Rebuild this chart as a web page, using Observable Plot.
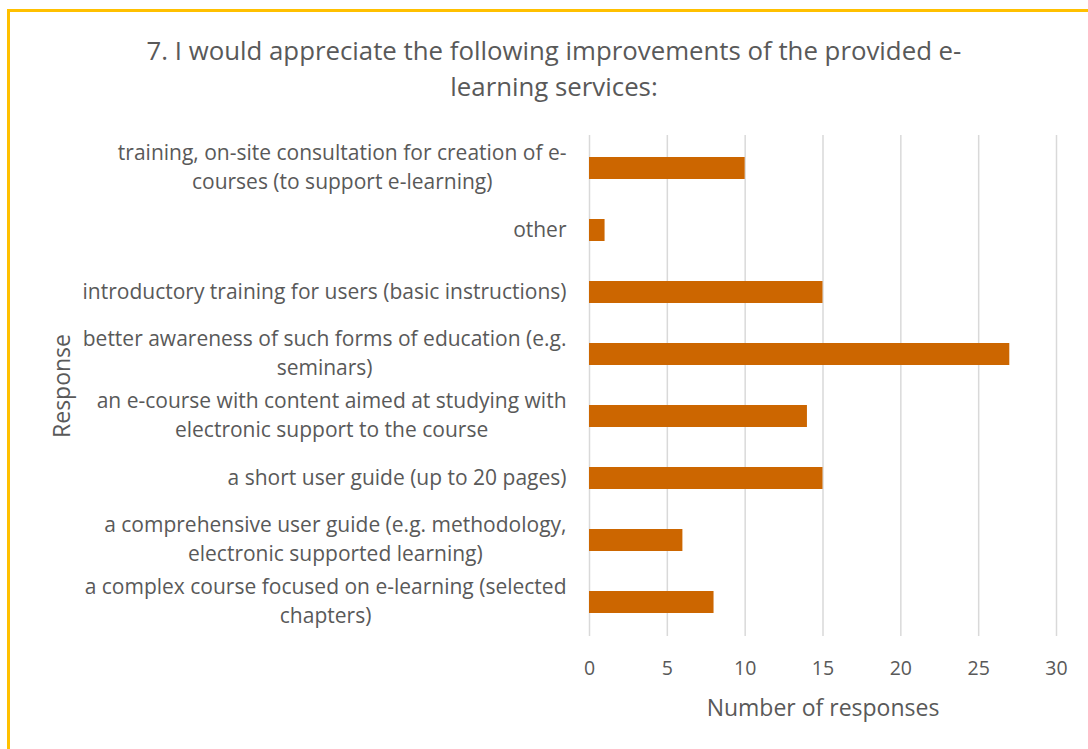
<!DOCTYPE html>
<html>
<head>
<meta charset="utf-8">
<script src="https://cdn.jsdelivr.net/npm/d3@7"></script>
<script src="https://cdn.jsdelivr.net/npm/@observablehq/plot@0.6"></script>
<style>
  html, body { margin: 0; padding: 0; background: #fff; overflow: hidden; }
  #frame { position: absolute; left: 7px; top: 9px; width: 1200px; height: 900px;
           border-top: 3px solid #FFC000; border-left: 3px solid #FFC000; box-sizing: border-box; }
  #title { position: absolute; left: 20px; width: 1068px; top: 32px; text-align: center;
           font-family: "Open Sans", sans-serif; font-size: 25.8px; line-height: 36px; color: #595959; }
  #chart { position: absolute; left: 0; top: 104px; }
</style>
</head>
<body>
<div id="frame"></div>
<div id="title">7. I would appreciate the following improvements of the provided e-<br>learning services:</div>
<div id="chart"></div>
<script>
const categories = [
  "training, on-site consultation for creation of e-\ncourses (to support e-learning)",
  "other",
  "introductory training for users (basic instructions)",
  "better awareness of such forms of education (e.g.\nseminars)",
  "an e-course with content aimed at studying with\nelectronic support to the course",
  "a short user guide (up to 20 pages)",
  "a comprehensive user guide (e.g. methodology,\nelectronic supported learning)",
  "a complex course focused on e-learning (selected\nchapters)"
];
const responses = [10, 1, 15, 27, 14, 15, 6, 8];
const xTicks = [0, 5, 10, 15, 20, 25, 30];
const xLabel = "Number of responses";
const yLabel = "Response";

const data = categories.map((c, i) => ({category: c, value: responses[i]}));

// measure label block widths so that multi-line labels are centred within a right-aligned block
const labelFont = 21;
const ctx = document.createElement("canvas").getContext("2d");
ctx.font = `${labelFont}px 'Open Sans'`;
const blockWidth = c => d3.max(c.split("\n"), line => ctx.measureText(line).width);
const labelPad = 23;

const labelMarks = categories.map(c =>
  Plot.text([c], {
    x: () => 0, y: d => d, text: d => d,
    textAnchor: "middle", dx: -(labelPad + blockWidth(c) / 2), dy: -3,
    fontSize: labelFont, lineHeight: 1.38, fill: "#595959"
  })
);

const chart = Plot.plot({
  width: 1088,
  height: 632,
  marginLeft: 589,
  marginRight: 32,
  marginTop: 31,
  marginBottom: 100,
  style: {fontFamily: "'Open Sans', sans-serif", fontSize: "20px", color: "#595959", background: "transparent"},
  x: {domain: [0, 30], ticks: xTicks},
  y: {domain: categories, paddingInner: 0.645, paddingOuter: 0.3225, axis: null},
  marks: [
    Plot.gridX(xTicks, {stroke: "#d9d9d9", strokeOpacity: 1, strokeWidth: 1.5}),
    Plot.barX(data, {x: "value", y: "category", fill: "#cc6600"}),
    Plot.axisX(xTicks, {tickSize: 0, tickPadding: 25, label: null, fontSize: 19.5}),
    ...labelMarks,
    Plot.text([xLabel], {frameAnchor: "bottom", lineAnchor: "middle", dy: 72, fontSize: 23, fill: "#595959"}),
    Plot.text([yLabel], {frameAnchor: "left", textAnchor: "middle", lineAnchor: "middle", dx: -527, rotate: -90, fontSize: 23, fill: "#595959"})
  ]
});
document.getElementById("chart").appendChild(chart);
</script>
</body>
</html>
